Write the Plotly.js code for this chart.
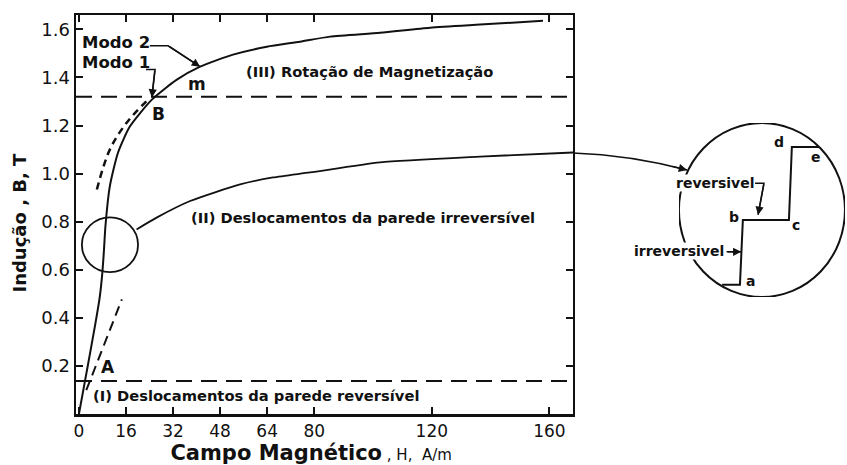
<!DOCTYPE html>
<html><head><meta charset="utf-8">
<script src="https://cdn.plot.ly/plotly-3.0.1.min.js"></script>
<style>html,body{margin:0;padding:0;background:#fff;}</style>
</head><body>
<div id="chart" style="width:847px;height:465px;"></div>
<script>
// ---- data ----
const xTickVals = [0, 16, 32, 48, 64, 80, 120, 160];
const yTickVals = [0.2, 0.4, 0.6, 0.8, 1.0, 1.2, 1.4, 1.6];
const yTickText = ['0.2', '0.4', '0.6', '0.8', '1.0', '1.2', '1.4', '1.6'];

// main magnetization curve B(H)
const curveH = [0, 3.0, 5.5, 7.0, 7.9, 8.5, 9.0, 10.5, 13.3, 17.3, 24.8, 33.3, 41.2, 52.4, 63.9, 75.2, 85.4, 102.4, 119.4, 136.4, 157.8];
const curveB = [0, 0.20, 0.37, 0.48, 0.58, 0.68, 0.78, 0.947, 1.088, 1.196, 1.308, 1.391, 1.445, 1.495, 1.528, 1.549, 1.570, 1.586, 1.607, 1.620, 1.636];

// "Modo 1" dashed curve
const modo1H = [6.1, 10.5, 16.3, 23.5];
const modo1B = [0.934, 1.10, 1.213, 1.308];

// initial tangent (dashed) through A
const tangentH = [2.5, 14.6];
const tangentB = [0.099, 0.477];

// curve (II) towards the detail circle
const curve2H = [19.6, 26.4, 37.8, 54.8, 66.0, 78.6, 102.4, 136.4, 168];
const curve2B = [0.768, 0.817, 0.886, 0.955, 0.984, 1.005, 1.047, 1.071, 1.088];

// region boundaries (horizontal dashed lines)
const boundaryB = [0.137, 1.32];

// detail staircase (schematic units of the inset circle)
const stepX = [-0.48, -0.265, -0.23, 0.325, 0.36, 0.69];
const stepY = [-0.86, -0.86, -0.115, -0.115, 0.724, 0.724];

const FONT = 'DejaVu Sans, Liberation Sans, Arial, sans-serif';
const black = '#111';

const traces = [
  {x: curveH, y: curveB, mode: 'lines', line: {color: black, width: 2, shape: 'spline', smoothing: 0.6}, hoverinfo: 'skip'},
  {x: modo1H, y: modo1B, mode: 'lines', line: {color: black, width: 2.5, dash: '7px,5px', shape: 'spline'}, hoverinfo: 'skip'},
  {x: tangentH, y: tangentB, mode: 'lines', line: {color: black, width: 2, dash: '10px,6px'}, hoverinfo: 'skip'},
  {x: curve2H, y: curve2B, mode: 'lines', line: {color: black, width: 1.8, shape: 'spline', smoothing: 0.6}, hoverinfo: 'skip'},
  {x: stepX, y: stepY, xaxis: 'x2', yaxis: 'y2', mode: 'lines', line: {color: black, width: 2}, hoverinfo: 'skip'}
];

const shapes = [];
boundaryB.forEach(b => shapes.push({type: 'line', xref: 'x', yref: 'y', x0: -1, x1: 168, y0: b, y1: b,
  line: {color: black, width: 2, dash: '16px,9px'}}));
// small circle on the curve
shapes.push({type: 'circle', xref: 'x', yref: 'y', x0: 1.0, x1: 20.1, y0: 0.59, y1: 0.818, line: {color: black, width: 1.8}});
// detail circle
shapes.push({type: 'circle', xref: 'x2', yref: 'y2', x0: -1, x1: 1, y0: -1, y1: 1, line: {color: black, width: 2}});
// leaders
shapes.push({type: 'path', xref: 'x', yref: 'y', path: 'M 24.1,1.532 L 30.3,1.532 L 41.2,1.445', line: {color: black, width: 1.5}});
shapes.push({type: 'path', xref: 'x', yref: 'y', path: 'M 22.8,1.433 L 25.9,1.433 L 24.8,1.317', line: {color: black, width: 1.5}});
shapes.push({type: 'path', xref: 'paper', yref: 'paper', path: 'M 0.6446,0.6541 Q 0.7186,0.6491 0.7925,0.6115', line: {color: black, width: 1.5}});
shapes.push({type: 'path', xref: 'x2', yref: 'y2', path: 'M -0.083,0.309 L 0.024,0.309 L -0.047,-0.057', line: {color: black, width: 1.5}});
shapes.push({type: 'path', xref: 'x2', yref: 'y2', path: 'M -0.426,-0.48 L -0.249,-0.48', line: {color: black, width: 1.5}});

const bold = (s) => '<b>' + s + '</b>';
const ann = [];
function txt(x, y, t, size, xanchor, extra) {
  ann.push(Object.assign({x: x, y: y, xref: 'x', yref: 'y', text: t, showarrow: false, xanchor: xanchor || 'center', yanchor: 'middle',
    font: {family: FONT, size: size, color: black}}, extra || {}));
}
txt(0.3, 1.545, bold('Modo 2'), 16.5, 'left');
txt(0.3, 1.462, bold('Modo 1'), 16.5, 'left');
txt(40.1, 1.375, bold('m'), 17);
txt(26.9, 1.25, bold('B'), 17);
txt(9.9, 0.195, bold('A'), 17);
txt(56.2, 1.424, bold('(III) Rotação de Magnetização'), 14.7, 'left');
txt(37.5, 0.818, bold('(II) Deslocamentos da parede irreversível'), 14.7, 'left');
txt(4.1, 0.079, bold('(I) Deslocamentos da parede reversível'), 14.7, 'left');

// inset labels
function itxt(x, y, t, size, xanchor, extra) {
  ann.push(Object.assign({x: x, y: y, xref: 'x2', yref: 'y2', text: bold(t), showarrow: false, xanchor: xanchor || 'center', yanchor: 'middle',
    font: {family: FONT, size: size, color: black}}, extra || {}));
}
itxt(-0.14, -0.82, 'a', 14);
itxt(-0.34, -0.08, 'b', 14);
itxt(0.41, -0.17, 'c', 14);
itxt(0.21, 0.78, 'd', 14);
itxt(0.65, 0.61, 'e', 14);
itxt(-0.085, 0.309, 'reversivel', 14, 'right', {bgcolor: '#fff', borderpad: 0});
itxt(-0.44, -0.47, 'irreversivel', 14, 'right', {bgcolor: '#fff', borderpad: 0});

// arrowheads
function arrow(xref, yref, x, y, ax, ay) {
  ann.push({x: x, y: y, xref: xref, yref: yref, ax: ax, ay: ay, text: '', showarrow: true,
    arrowhead: 2, arrowsize: 1.1, arrowwidth: 1.5, arrowcolor: black});
}
arrow('x', 'y', 41.2, 1.445, -32, -21);
arrow('x', 'y', 24.8, 1.317, 3, -28);
arrow('paper', 'paper', 0.7925, 0.6115, -16, -4);
arrow('x2', 'y2', -0.047, -0.057, 6, -32);
arrow('x2', 'y2', -0.249, -0.48, -15, 0);

const axisCommon = {
  showline: true, linecolor: black, linewidth: 2.5, mirror: 'ticks',
  ticks: 'inside', ticklen: 7, tickwidth: 2, tickcolor: black,
  showgrid: false, zeroline: false,
  tickfont: {family: FONT, size: 18, color: black}
};

const layout = {
  width: 847, height: 465,
  margin: {l: 76, r: 0, t: 15, b: 51},
  paper_bgcolor: '#fff', plot_bgcolor: '#fff',
  showlegend: false,
  xaxis: Object.assign({}, axisCommon, {
    domain: [0, 0.6446], range: [-1, 168], tickmode: 'array', tickvals: xTickVals,
    tickfont: {family: FONT, size: 17, color: black},
    title: {text: '<b>Campo Magnético</b><span style="font-size:15px"> , H,  A/m</span>&nbsp;&nbsp;&nbsp;&nbsp;',
      font: {family: FONT, size: 21, color: black}, standoff: 0}
  }),
  yaxis: Object.assign({}, axisCommon, {
    domain: [0, 1], range: [0, 1.66], tickmode: 'array', tickvals: yTickVals, ticktext: yTickText,
    title: {text: '<b>Indução , B, T</b>&nbsp;&nbsp;&nbsp;', font: {family: FONT, size: 18, color: black}, standoff: 10}
  }),
  xaxis2: {domain: [0.782, 0.9974], range: [-1, 1], visible: false, anchor: 'y2'},
  yaxis2: {domain: [0.2932, 0.7293], range: [-1, 1], visible: false, anchor: 'x2'},
  shapes: shapes,
  annotations: ann
};

Plotly.newPlot('chart', traces, layout, {staticPlot: true, displayModeBar: false});
</script>
</body></html>
